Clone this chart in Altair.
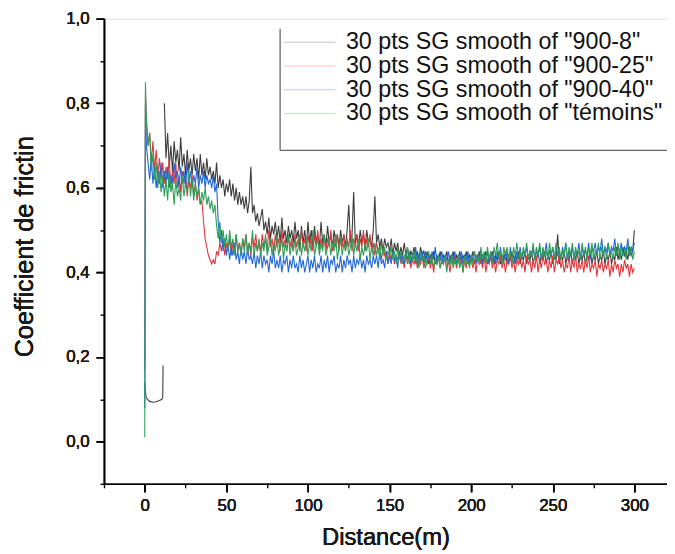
import altair as alt
import pandas as pd

# ---------------- data ----------------
series_names = [
    '30 pts SG smooth of "900-8"',
    '30 pts SG smooth of "900-25"',
    '30 pts SG smooth of "900-40"',
    '30 pts SG smooth of "témoins"',
]
series_colors = ["#3c3c3c", "#e4353a", "#1f66dc", "#2e9e58"]

# sampling positions (m): start of test, first peak, then every metre
distance = [0, 0.4] + list(range(1, 301))

cof_900_8 = [None, None,
    None, None, None, None, None, None, None, None, None, None,
    None, 0.80, 0.67, 0.73, 0.65, 0.70, 0.64, 0.71, 0.66, 0.69,
    0.64, 0.72, 0.65, 0.68, 0.63, 0.69, 0.64, 0.67, 0.63, 0.68,
    0.64, 0.67, 0.62, 0.68, 0.63, 0.66, 0.62, 0.67, 0.63, 0.65,
    0.62, 0.64, 0.61, 0.66, 0.60, 0.63, 0.60, 0.62, 0.58, 0.61,
    0.59, 0.62, 0.58, 0.61, 0.57, 0.60, 0.56, 0.59, 0.56, 0.58,
    0.55, 0.58, 0.54, 0.57, 0.65, 0.54, 0.56, 0.52, 0.54, 0.51,
    0.53, 0.55, 0.50, 0.52, 0.49, 0.53, 0.48, 0.51, 0.49, 0.52,
    0.48, 0.51, 0.47, 0.53, 0.48, 0.50, 0.47, 0.51, 0.48, 0.50,
    0.47, 0.52, 0.48, 0.50, 0.46, 0.51, 0.47, 0.50, 0.46, 0.52,
    0.47, 0.50, 0.46, 0.51, 0.47, 0.49, 0.46, 0.52, 0.47, 0.49,
    0.46, 0.51, 0.47, 0.49, 0.46, 0.50, 0.47, 0.49, 0.46, 0.50,
    0.47, 0.49, 0.46, 0.50, 0.56, 0.47, 0.49, 0.59, 0.47, 0.49,
    0.46, 0.50, 0.47, 0.49, 0.46, 0.50, 0.47, 0.48, 0.46, 0.50,
    0.58, 0.47, 0.49, 0.46, 0.48, 0.45, 0.48, 0.46, 0.47, 0.45,
    0.48, 0.44, 0.47, 0.45, 0.47, 0.44, 0.46, 0.44, 0.47, 0.44,
    0.46, 0.43, 0.45, 0.44, 0.46, 0.43, 0.45, 0.43, 0.46, 0.44,
    0.45, 0.43, 0.45, 0.42, 0.44, 0.43, 0.45, 0.42, 0.44, 0.43,
    0.45, 0.42, 0.44, 0.43, 0.45, 0.42, 0.44, 0.43, 0.45, 0.42,
    0.44, 0.43, 0.45, 0.42, 0.44, 0.43, 0.45, 0.42, 0.44, 0.43,
    0.45, 0.42, 0.44, 0.43, 0.45, 0.42, 0.44, 0.43, 0.45, 0.42,
    0.44, 0.43, 0.45, 0.42, 0.44, 0.43, 0.45, 0.42, 0.44, 0.43,
    0.45, 0.42, 0.44, 0.43, 0.45, 0.42, 0.44, 0.43, 0.45, 0.42,
    0.44, 0.43, 0.45, 0.42, 0.44, 0.43, 0.45, 0.42, 0.44, 0.43,
    0.45, 0.42, 0.44, 0.43, 0.45, 0.42, 0.44, 0.43, 0.45, 0.42,
    0.44, 0.43, 0.49, 0.42, 0.44, 0.43, 0.45, 0.42, 0.44, 0.43,
    0.45, 0.42, 0.44, 0.43, 0.45, 0.42, 0.44, 0.43, 0.45, 0.42,
    0.44, 0.43, 0.45, 0.42, 0.44, 0.43, 0.45, 0.42, 0.44, 0.43,
    0.45, 0.42, 0.44, 0.43, 0.45, 0.42, 0.44, 0.43, 0.46, 0.43,
    0.45, 0.43, 0.46, 0.44, 0.45, 0.43, 0.46, 0.44, 0.45, 0.50]

# separate low start of "900-8" (0 to 11 m)
hook_distance = [0, 0.3, 0.8, 1.5, 3, 5, 7, 9, 10.5, 11, 11.2]
hook_cof = [0.14, 0.12, 0.105, 0.10, 0.095, 0.093, 0.094, 0.097, 0.10, 0.105, 0.18]

cof_900_25 = [0.17, 0.82,
    0.76, 0.70, 0.73, 0.66, 0.71, 0.64, 0.69, 0.63, 0.67, 0.62,
    0.66, 0.61, 0.65, 0.62, 0.67, 0.60, 0.64, 0.61, 0.66, 0.60,
    0.63, 0.59, 0.64, 0.61, 0.63, 0.58, 0.62, 0.60, 0.63, 0.58,
    0.61, 0.57, 0.60, 0.56, 0.57, 0.52, 0.48, 0.46, 0.44, 0.43,
    0.42, 0.43, 0.42, 0.45, 0.44, 0.47, 0.45, 0.48, 0.44, 0.47,
    0.45, 0.48, 0.44, 0.47, 0.45, 0.49, 0.45, 0.47, 0.44, 0.48,
    0.46, 0.49, 0.45, 0.47, 0.44, 0.48, 0.46, 0.49, 0.45, 0.47,
    0.45, 0.49, 0.46, 0.48, 0.45, 0.50, 0.46, 0.48, 0.45, 0.49,
    0.46, 0.48, 0.45, 0.50, 0.46, 0.48, 0.45, 0.49, 0.46, 0.48,
    0.45, 0.49, 0.46, 0.48, 0.45, 0.50, 0.46, 0.48, 0.45, 0.49,
    0.46, 0.48, 0.45, 0.49, 0.46, 0.50, 0.45, 0.48, 0.46, 0.49,
    0.45, 0.48, 0.46, 0.50, 0.45, 0.48, 0.46, 0.49, 0.45, 0.48,
    0.46, 0.49, 0.45, 0.48, 0.46, 0.50, 0.45, 0.48, 0.46, 0.49,
    0.45, 0.48, 0.46, 0.50, 0.45, 0.48, 0.46, 0.49, 0.45, 0.47,
    0.44, 0.47, 0.45, 0.46, 0.43, 0.46, 0.44, 0.45, 0.42, 0.45,
    0.43, 0.45, 0.42, 0.44, 0.43, 0.45, 0.42, 0.44, 0.41, 0.44,
    0.42, 0.44, 0.41, 0.43, 0.42, 0.44, 0.41, 0.43, 0.42, 0.44,
    0.41, 0.43, 0.42, 0.44, 0.41, 0.43, 0.40, 0.43, 0.42, 0.44,
    0.41, 0.43, 0.42, 0.44, 0.41, 0.43, 0.40, 0.43, 0.42, 0.44,
    0.41, 0.43, 0.42, 0.44, 0.40, 0.43, 0.41, 0.44, 0.42, 0.43,
    0.41, 0.43, 0.40, 0.44, 0.42, 0.43, 0.41, 0.44, 0.40, 0.43,
    0.42, 0.44, 0.41, 0.43, 0.40, 0.43, 0.42, 0.44, 0.41, 0.43,
    0.40, 0.43, 0.42, 0.44, 0.41, 0.43, 0.40, 0.43, 0.42, 0.44,
    0.41, 0.43, 0.40, 0.44, 0.42, 0.43, 0.40, 0.43, 0.41, 0.44,
    0.40, 0.43, 0.41, 0.44, 0.42, 0.43, 0.40, 0.43, 0.41, 0.44,
    0.40, 0.43, 0.42, 0.44, 0.41, 0.43, 0.40, 0.42, 0.41, 0.44,
    0.40, 0.43, 0.41, 0.44, 0.40, 0.42, 0.41, 0.43, 0.40, 0.43,
    0.41, 0.44, 0.40, 0.42, 0.41, 0.43, 0.39, 0.42, 0.41, 0.43,
    0.40, 0.42, 0.41, 0.43, 0.39, 0.42, 0.40, 0.43, 0.41, 0.42,
    0.39, 0.42, 0.40, 0.43, 0.41, 0.42, 0.39, 0.42, 0.40, 0.41]

cof_900_40 = [0.08, 0.80,
    0.70, 0.66, 0.62, 0.67, 0.61, 0.65, 0.60, 0.64, 0.61, 0.66,
    0.60, 0.64, 0.61, 0.65, 0.60, 0.63, 0.61, 0.66, 0.62, 0.64,
    0.60, 0.65, 0.62, 0.64, 0.60, 0.66, 0.61, 0.64, 0.60, 0.63,
    0.61, 0.65, 0.60, 0.63, 0.61, 0.64, 0.60, 0.63, 0.61, 0.62,
    0.60, 0.63, 0.59, 0.61, 0.52, 0.47, 0.50, 0.45, 0.48, 0.44,
    0.47, 0.43, 0.46, 0.44, 0.47, 0.43, 0.45, 0.42, 0.46, 0.43,
    0.45, 0.42, 0.46, 0.43, 0.44, 0.42, 0.45, 0.41, 0.44, 0.42,
    0.45, 0.41, 0.44, 0.42, 0.43, 0.40, 0.44, 0.42, 0.45, 0.41,
    0.43, 0.41, 0.44, 0.40, 0.43, 0.42, 0.44, 0.40, 0.43, 0.41,
    0.44, 0.41, 0.42, 0.40, 0.44, 0.41, 0.43, 0.40, 0.42, 0.44,
    0.40, 0.43, 0.41, 0.44, 0.40, 0.42, 0.41, 0.44, 0.40, 0.43,
    0.41, 0.44, 0.40, 0.43, 0.42, 0.44, 0.40, 0.42, 0.41, 0.44,
    0.40, 0.43, 0.41, 0.44, 0.42, 0.43, 0.40, 0.44, 0.41, 0.43,
    0.42, 0.44, 0.41, 0.43, 0.40, 0.44, 0.42, 0.43, 0.41, 0.44,
    0.42, 0.44, 0.41, 0.45, 0.42, 0.43, 0.41, 0.45, 0.42, 0.44,
    0.42, 0.45, 0.43, 0.44, 0.41, 0.45, 0.43, 0.44, 0.42, 0.45,
    0.43, 0.45, 0.42, 0.44, 0.43, 0.46, 0.42, 0.44, 0.43, 0.45,
    0.42, 0.45, 0.43, 0.44, 0.42, 0.45, 0.43, 0.46, 0.42, 0.44,
    0.43, 0.45, 0.42, 0.44, 0.43, 0.45, 0.42, 0.44, 0.43, 0.45,
    0.42, 0.44, 0.43, 0.45, 0.42, 0.44, 0.43, 0.45, 0.42, 0.44,
    0.43, 0.45, 0.42, 0.44, 0.43, 0.45, 0.42, 0.44, 0.43, 0.45,
    0.42, 0.45, 0.43, 0.44, 0.42, 0.45, 0.43, 0.46, 0.42, 0.44,
    0.43, 0.45, 0.42, 0.46, 0.43, 0.44, 0.42, 0.45, 0.43, 0.46,
    0.43, 0.45, 0.44, 0.46, 0.43, 0.45, 0.44, 0.46, 0.43, 0.45,
    0.44, 0.46, 0.43, 0.45, 0.44, 0.47, 0.43, 0.45, 0.44, 0.46,
    0.43, 0.46, 0.44, 0.45, 0.43, 0.46, 0.44, 0.47, 0.43, 0.45,
    0.44, 0.46, 0.43, 0.45, 0.44, 0.47, 0.43, 0.46, 0.44, 0.45,
    0.44, 0.47, 0.43, 0.46, 0.45, 0.47, 0.44, 0.46, 0.45, 0.48,
    0.44, 0.46, 0.45, 0.47, 0.44, 0.46, 0.45, 0.48, 0.44, 0.46,
    0.45, 0.47, 0.44, 0.46, 0.45, 0.48, 0.44, 0.46, 0.45, 0.47]

cof_temoins = [0.01, 0.85,
    0.76, 0.70, 0.73, 0.64, 0.68, 0.62, 0.66, 0.60, 0.64, 0.59,
    0.63, 0.58, 0.62, 0.57, 0.64, 0.59, 0.61, 0.56, 0.62, 0.58,
    0.60, 0.57, 0.63, 0.58, 0.61, 0.59, 0.64, 0.58, 0.62, 0.57,
    0.61, 0.58, 0.60, 0.56, 0.59, 0.57, 0.60, 0.56, 0.58, 0.55,
    0.57, 0.54, 0.56, 0.51, 0.48, 0.52, 0.47, 0.50, 0.46, 0.49,
    0.45, 0.50, 0.46, 0.48, 0.44, 0.49, 0.45, 0.47, 0.44, 0.48,
    0.45, 0.49, 0.44, 0.47, 0.45, 0.50, 0.44, 0.47, 0.45, 0.48,
    0.44, 0.47, 0.45, 0.49, 0.44, 0.46, 0.48, 0.44, 0.47, 0.45,
    0.49, 0.44, 0.46, 0.48, 0.43, 0.47, 0.45, 0.49, 0.44, 0.47,
    0.45, 0.48, 0.44, 0.46, 0.49, 0.44, 0.47, 0.45, 0.48, 0.44,
    0.47, 0.45, 0.50, 0.44, 0.46, 0.48, 0.44, 0.47, 0.45, 0.49,
    0.44, 0.46, 0.48, 0.44, 0.47, 0.45, 0.49, 0.43, 0.46, 0.48,
    0.44, 0.47, 0.45, 0.48, 0.44, 0.46, 0.49, 0.44, 0.47, 0.45,
    0.48, 0.43, 0.46, 0.44, 0.47, 0.45, 0.48, 0.43, 0.46, 0.44,
    0.47, 0.44, 0.46, 0.43, 0.47, 0.44, 0.46, 0.43, 0.45, 0.44,
    0.46, 0.43, 0.45, 0.42, 0.46, 0.43, 0.45, 0.42, 0.44, 0.43,
    0.46, 0.42, 0.44, 0.43, 0.45, 0.42, 0.44, 0.41, 0.45, 0.43,
    0.44, 0.41, 0.43, 0.45, 0.42, 0.44, 0.41, 0.43, 0.42, 0.44,
    0.41, 0.43, 0.42, 0.44, 0.40, 0.43, 0.42, 0.44, 0.41, 0.43,
    0.42, 0.44, 0.41, 0.43, 0.40, 0.44, 0.42, 0.43, 0.41, 0.44,
    0.42, 0.45, 0.43, 0.44, 0.42, 0.46, 0.43, 0.45, 0.42, 0.46,
    0.43, 0.45, 0.42, 0.46, 0.44, 0.47, 0.43, 0.45, 0.42, 0.46,
    0.44, 0.46, 0.43, 0.45, 0.42, 0.46, 0.44, 0.47, 0.43, 0.45,
    0.43, 0.46, 0.44, 0.47, 0.43, 0.45, 0.44, 0.47, 0.43, 0.46,
    0.44, 0.47, 0.43, 0.46, 0.44, 0.45, 0.43, 0.47, 0.44, 0.46,
    0.43, 0.47, 0.44, 0.46, 0.43, 0.45, 0.44, 0.47, 0.43, 0.46,
    0.44, 0.47, 0.43, 0.46, 0.44, 0.45, 0.43, 0.47, 0.44, 0.46,
    0.43, 0.46, 0.44, 0.47, 0.43, 0.45, 0.44, 0.47, 0.43, 0.46,
    0.44, 0.46, 0.43, 0.47, 0.44, 0.45, 0.43, 0.46, 0.44, 0.47,
    0.43, 0.46, 0.44, 0.45, 0.43, 0.47, 0.44, 0.46, 0.43, 0.45]

x_major = [0, 50, 100, 150, 200, 250, 300]
x_minor = [-25, 25, 75, 125, 175, 225, 275]
y_major = [0.0, 0.2, 0.4, 0.6, 0.8, 1.0]
y_minor = [-0.1, 0.1, 0.3, 0.5, 0.7, 0.9]

all_series = [cof_900_8, cof_900_25, cof_900_40, cof_temoins]
for vals in all_series:
    assert len(vals) == len(distance), len(vals)

# ---------------- table ----------------
rows = []
for name, vals in zip(series_names, all_series):
    for d, v in zip(distance, vals):
        if v is not None:
            rows.append({"series": name, "seg": name + "-main", "distance": d, "cof": v})
for d, v in zip(hook_distance, hook_cof):
    rows.append({"series": series_names[0], "seg": "hook", "distance": d, "cof": v})
df = pd.DataFrame(rows)

FONT = "Liberation Sans"
xscale = alt.Scale(domain=[-25, 320], nice=False, zero=False)
yscale = alt.Scale(domain=[-0.1, 1.0], nice=False, zero=False)
cscale = alt.Scale(domain=series_names, range=series_colors)

axis_common = dict(grid=False, domainColor="black", domainWidth=1.4, tickColor="black",
                   tickWidth=1.4, labelFont=FONT, titleFont=FONT, labelColor="#1a1a1a",
                   titleColor="#1a1a1a", titleFontWeight="normal")

x_axis = alt.Axis(values=x_major, tickSize=8, labelFontSize=17, labelPadding=6,
                  title="Distance(m)", titleFontSize=24, titleY=54, titleBaseline="middle",
                  orient="bottom", **axis_common)
y_axis = alt.Axis(values=y_major, tickSize=8, labelFontSize=17, labelPadding=7,
                  labelExpr="replace(format(datum.value, '.1f'), '.', ',')",
                  title="Coefficient de frictin", titleFontSize=25.5, titleX=-80, titleY=230,
                  titleBaseline="middle", titleAlign="center", orient="left", **axis_common)
x_axis_minor = alt.Axis(values=x_minor, tickSize=4, labels=False, domain=False, title=None,
                        grid=False, tickColor="black", tickWidth=1.4, orient="bottom")
y_axis_minor = alt.Axis(values=y_minor, tickSize=4, labels=False, domain=False, title=None,
                        grid=False, tickColor="black", tickWidth=1.4, orient="left")

legend = alt.Legend(orient="none", legendX=196, legendY=12, title=None, padding=0,
                    symbolType="M-2.6,0L2.6,0", symbolSize=400, symbolStrokeWidth=1,
                    symbolOpacity=0.3, labelFont=FONT, labelFontSize=23.5, labelColor="#111111",
                    labelOffset=25, labelLimit=600, rowPadding=-5.2)

layers = []
for name in series_names:
    layers.append(
        alt.Chart(df).transform_filter(alt.datum.series == name).mark_line(strokeWidth=1.1).encode(
            x=alt.X("distance:Q", scale=xscale, axis=x_axis),
            y=alt.Y("cof:Q", scale=yscale, axis=y_axis),
            color=alt.Color("series:N", scale=cscale, legend=legend),
            detail="seg:N",
        )
    )

minor = alt.Chart(df).mark_point(opacity=0).encode(
    x=alt.X("distance:Q", scale=xscale, axis=x_axis_minor),
    y=alt.Y("cof:Q", scale=yscale, axis=y_axis_minor),
)

one = pd.DataFrame({"a": [0]})
frame_left = alt.Chart(one).mark_rule(color="#666666", strokeWidth=1.3).encode(
    x=alt.value(178), y=alt.value(10), y2=alt.value(133))
frame_bottom = alt.Chart(one).mark_rule(color="#666666", strokeWidth=1.3).encode(
    x=alt.value(178), x2=alt.value(575), y=alt.value(133))

chart = alt.layer(*layers, minor, frame_left, frame_bottom).resolve_axis(
    x="independent", y="independent"
).properties(
    width=569, height=470,
    autosize=alt.AutoSizeParams(type="none"),
    padding={"left": 97, "top": 8, "right": 0, "bottom": 66},
).configure_view(stroke=None).configure(background="white")

chart.save("out.html", embed_options={"renderer": "svg", "actions": False})
